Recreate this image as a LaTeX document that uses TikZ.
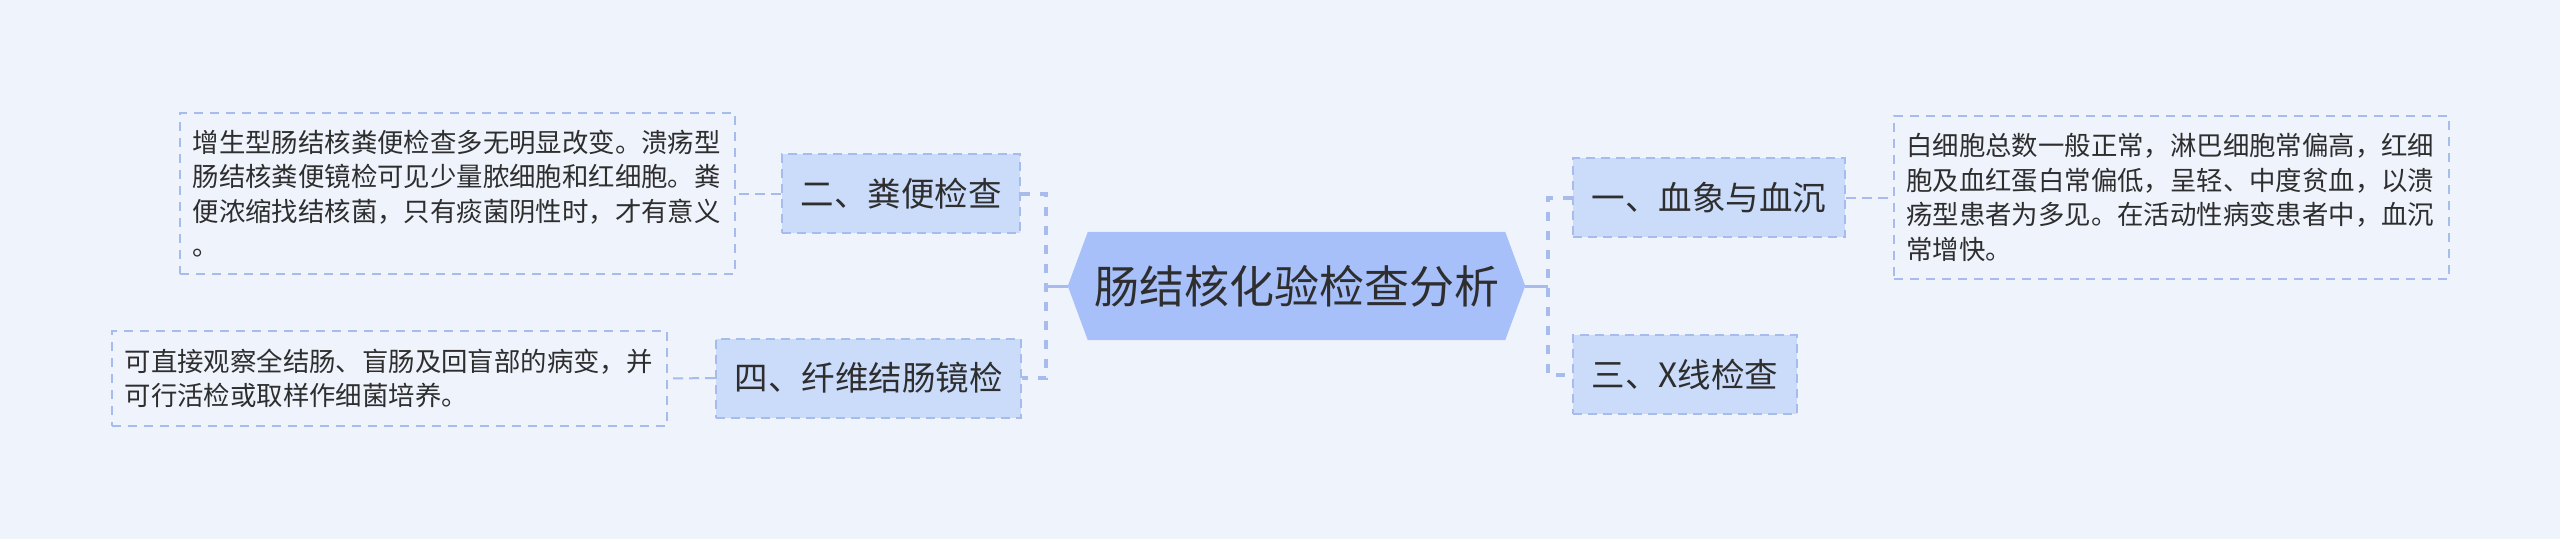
\documentclass[tikz,border=0pt]{standalone}
\usepackage{fontspec}
\setmainfont{Noto Sans CJK SC}
\usetikzlibrary{backgrounds}
\definecolor{bgc}{HTML}{EFF3FC}
\definecolor{rootc}{HTML}{A8C0F9}
\definecolor{subc}{HTML}{CBDBFA}
\definecolor{linec}{HTML}{A7BCEC}
\definecolor{txtc}{HTML}{2E2E2E}

\begin{document}
\begin{tikzpicture}
        [x=1pt, y=-1pt,
        root/.style={minimum width=457pt, minimum height=108pt, inner sep=0, text=txtc, font=\fontsize{45}{54}\selectfont},
        sub/.style={draw=linec, fill=subc, line width=2pt, dash pattern=on 9pt off 6pt, minimum height=79pt, inner xsep=18.5pt, inner ysep=0, text=txtc, font=\fontsize{33.5}{40}\selectfont},
        note/.style={draw=linec, line width=1.6pt, dash pattern=on 9pt off 7pt, text width=530pt, inner xsep=12.5pt, inner ysep=0, align=left, text=txtc, font=\fontsize{26.4}{34.5}\selectfont},
        spine/.style={draw=linec, line width=4pt, dash pattern=on 9pt off 10pt},
        stub/.style={draw=linec, line width=3pt},
        link/.style={draw=linec, line width=2pt, dash pattern=on 10pt off 6pt}]

        \useasboundingbox (0,0) rectangle (2560,539);

        \node[root] (root) at (1296.5, 286) {肠结核化验检查分析};

        \node[sub, anchor=east] (b2) at (1021, 193.5) {二、粪便检查};
        \node[sub, anchor=east] (b4) at (1022, 378) {四、纤维结肠镜检};
        \node[sub, anchor=west] (b1) at (1572, 197.5) {一、血象与血沉};
        \node[sub, anchor=west] (b3) at (1572, 374.5) {三、X线检查};

        \node[note, minimum height=161pt, anchor=east] (t2) at (736, 193.5)
          {增生型肠结核粪便检查多无明显改变。溃疡型\\肠结核粪便镜检可见少量脓细胞和红细胞。粪\\便浓缩找结核菌，只有痰菌阴性时，才有意义\\。};
        \node[note, minimum height=95pt, anchor=east] (t4) at (668, 378.5)
          {可直接观察全结肠、盲肠及回盲部的病变，并\\可行活检或取样作细菌培养。};
        \node[note, minimum height=163pt, anchor=west] (t1) at (1893, 197.5)
          {白细胞总数一般正常，淋巴细胞常偏高，红细\\胞及血红蛋白常偏低，呈轻、中度贫血，以溃\\疡型患者为多见。在活动性病变患者中，血沉\\常增快。};

        \coordinate (lj) at (1046, 286);
        \coordinate (rj) at (1548, 286);

        \draw[stub] (root.west) -- (lj);
        \draw[stub] (root.east) -- (rj);
        \draw[spine] (b2.east) -| (lj) |- (b4.east);
        \draw[spine] (b1.west) -| (rj) |- (b3.west);

        \draw[link] (b2.west) -- (t2.east);
        \draw[link] (b4.west) -- (t4.east);
        \draw[link] (b1.east) -- (t1.west);

        \begin{scope}[on background layer]
          \fill[bgc] (0,0) rectangle (2560,539);
          \fill[rootc] ([xshift=20pt]root.north west) -- (root.west) -- ([xshift=20pt]root.south west)
            -- ([xshift=-20pt]root.south east) -- (root.east) -- ([xshift=-20pt]root.north east) -- cycle;
        \end{scope}
      \end{tikzpicture}
\end{document}
